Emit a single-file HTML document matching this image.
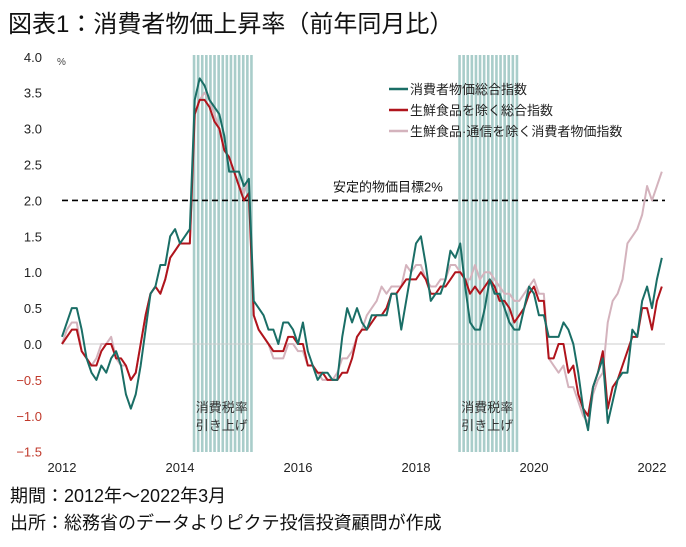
<!DOCTYPE html>
<html><head><meta charset="utf-8"><style>
body{margin:0;background:#fff;width:686px;height:542px;overflow:hidden;font-family:"Liberation Sans","Noto Sans CJK JP",sans-serif}
</style></head><body>
<svg id="c" width="686" height="542" xmlns="http://www.w3.org/2000/svg" font-family="Liberation Sans, Noto Sans CJK JP, sans-serif">
<text x="8" y="32" font-size="24" fill="#111">図表1：消費者物価上昇率（前年同月比）</text>
<text x="10" y="502" font-size="18" fill="#111">期間：2012年～2022年3月</text>
<text x="10" y="529" font-size="18" fill="#111">出所：総務省のデータよりピクテ投信投資顧問が作成</text>
<g id="g"></g>
</svg>
<script>
const yTicks=[4.0,3.5,3.0,2.5,2.0,1.5,1.0,0.5,0.0,-0.5,-1.0,-1.5];
const xYears=[2012,2014,2016,2018,2020,2022];
const shadeStarts=[[2014,4],[2018,10]];
const shadeEnds=[[2015,3],[2019,9]];
const target=2.0;
const cpi=[0.1,0.3,0.5,0.5,0.2,-0.2,-0.4,-0.5,-0.3,-0.4,-0.2,-0.1,
-0.3,-0.7,-0.9,-0.7,-0.3,0.2,0.7,0.8,1.1,1.1,1.5,1.6,
1.4,1.5,1.6,3.4,3.7,3.6,3.4,3.3,3.2,2.9,2.4,2.4,
2.4,2.2,2.3,0.6,0.5,0.4,0.2,0.2,0.0,0.3,0.3,0.2,
0.0,0.3,-0.1,-0.3,-0.5,-0.4,-0.4,-0.5,-0.5,0.1,0.5,0.3,
0.5,0.3,0.2,0.4,0.4,0.4,0.4,0.7,0.7,0.2,0.6,1.0,
1.4,1.5,1.1,0.6,0.7,0.7,0.9,1.3,1.2,1.4,0.8,0.3,
0.2,0.2,0.5,0.9,0.7,0.7,0.5,0.3,0.2,0.2,0.5,0.8,
0.7,0.4,0.4,0.1,0.1,0.1,0.3,0.2,0.0,-0.4,-0.9,-1.2,
-0.6,-0.4,-0.2,-1.1,-0.8,-0.5,-0.4,-0.4,0.2,0.1,0.6,0.8,
0.5,0.9,1.2];
const core=[0.0,0.1,0.2,0.2,-0.1,-0.2,-0.3,-0.3,-0.1,0.0,0.0,-0.2,
-0.2,-0.3,-0.5,-0.4,0.0,0.4,0.7,0.8,0.7,0.9,1.2,1.3,
1.4,1.4,1.4,3.2,3.4,3.4,3.3,3.1,3.0,2.7,2.6,2.4,
2.2,2.0,2.1,0.4,0.2,0.1,0.0,-0.1,-0.1,-0.1,0.1,0.1,
0.0,0.0,-0.3,-0.3,-0.4,-0.4,-0.5,-0.5,-0.5,-0.4,-0.4,-0.2,
0.1,0.2,0.2,0.3,0.4,0.4,0.5,0.7,0.7,0.8,0.9,0.9,
0.9,1.0,0.9,0.7,0.7,0.8,0.8,0.9,1.0,1.0,0.9,0.7,
0.8,0.7,0.8,0.9,0.8,0.6,0.6,0.5,0.3,0.4,0.5,0.7,
0.8,0.6,0.6,-0.2,-0.2,0.0,0.0,-0.4,-0.3,-0.7,-0.9,-1.0,
-0.6,-0.4,-0.1,-0.9,-0.6,-0.5,-0.3,-0.1,0.1,0.1,0.5,0.5,
0.2,0.6,0.8];
const exComm=[0.0,0.2,0.3,0.3,-0.1,-0.2,-0.3,-0.2,0.0,0.0,0.1,-0.2,
-0.3,-0.3,-0.5,-0.4,0.0,0.4,0.7,0.8,0.7,0.9,1.2,1.3,
1.4,1.4,1.4,3.2,3.4,3.5,3.4,3.2,3.0,2.7,2.6,2.4,
2.2,2.1,2.3,0.4,0.2,0.1,0.0,-0.2,-0.2,-0.2,0.0,0.0,
-0.1,-0.1,-0.3,-0.3,-0.4,-0.5,-0.5,-0.5,-0.4,-0.2,-0.2,-0.1,
0.1,0.2,0.4,0.5,0.6,0.8,0.7,0.8,0.8,0.8,1.1,1.0,
1.1,1.1,0.9,0.8,0.8,0.9,0.9,1.1,1.1,1.0,0.9,0.9,
1.1,0.9,1.0,1.0,0.9,0.8,0.7,0.7,0.6,0.6,0.7,0.8,
0.9,0.7,0.7,-0.2,-0.3,-0.4,-0.3,-0.6,-0.6,-0.8,-1.0,-1.1,
-0.7,-0.5,-0.4,0.3,0.6,0.7,0.9,1.4,1.5,1.6,1.8,2.2,
2.0,2.2,2.4];
const seriesColors=["#1a6e66","#b0141c","#d4b3bd"];
const seriesNames=["消費者物価総合指数","生鮮食品を除く総合指数","生鮮食品·通信を除く消費者物価指数"];
const seriesKeys=["series-cpi-all","series-core","series-ex-fresh-comm"];

const NS="http://www.w3.org/2000/svg";
const g=document.getElementById('g');
const y=v=>344-v*71.8;
const xm=i=>62+i*59/12;
const xd=(yr,m)=>xm((yr-2012)*12+(m-1));
function mk(t,a,p){const e=document.createElementNS(NS,t);for(const k in a)e.setAttribute(k,a[k]);(p||g).appendChild(e);return e;}

// shading stripes
shadeStarts.forEach((s,k)=>{
  const e=shadeEnds[k];
  const sg=mk('g',{});
  
  
  const x0=xd(s[0],s[1])-2,x1=xd(e[0],e[1])+2;
  for(let x=x0;x<x1;x+=4.1){mk('rect',{x:x,y:55,width:2.6,height:397,fill:'#a9cdca'},sg);}
  const cx=(x0+x1)/2;
  const t1=mk('text',{x:cx,y:412,'font-size':13,'text-anchor':'middle',fill:'#333'});t1.textContent='消費税率';
  
  
  const t2=mk('text',{x:cx,y:430,'font-size':13,'text-anchor':'middle',fill:'#333'});t2.textContent='引き上げ';
  
  
});
// zero line
const zl=mk('line',{x1:62,x2:665,y1:y(0),y2:y(0),stroke:'#ccc','stroke-width':1});


// y ticks
yTicks.forEach(v=>{
  const t=mk('text',{x:42,y:y(v)+5,'font-size':13,'text-anchor':'end',fill:v<0?'#c0392b':'#222'});
  t.textContent=v.toFixed(1).replace('-','−');
  
  
});
const pc=mk('text',{x:57,y:65,'font-size':10,fill:'#444'});pc.textContent='%';


xYears.forEach(yr=>{
  const t=mk('text',{x:xd(yr,1),y:472,'font-size':13,'text-anchor':'middle',fill:'#222'});
  t.textContent=yr;
  
  
});
// target line
const tl=mk('line',{x1:62,x2:665,y1:y(target),y2:y(target),stroke:'#000','stroke-width':1.6,'stroke-dasharray':'6,4'});


const tt=mk('text',{x:333,y:y(target)-9,'font-size':13,fill:'#111'});tt.textContent='安定的物価目標2%';


// series
[exComm,core,cpi].forEach((arr,j)=>{
  const idx=2-j;
  const p=mk('polyline',{points:arr.map((v,i)=>xm(i)+','+y(v)).join(' '),fill:'none',stroke:seriesColors[idx],'stroke-width':2,'stroke-linejoin':'round'});
  
  
});
// legend
seriesNames.forEach((n,i)=>{
  const lg=mk('g',{});
  
  
  const ly=89+i*21;
  mk('line',{x1:389,x2:408,y1:ly,y2:ly,stroke:seriesColors[i],'stroke-width':2.5},lg);
  const t=mk('text',{x:410,y:ly+5,'font-size':13,fill:'#222'},lg);t.textContent=n;
});
</script>
</body></html>
